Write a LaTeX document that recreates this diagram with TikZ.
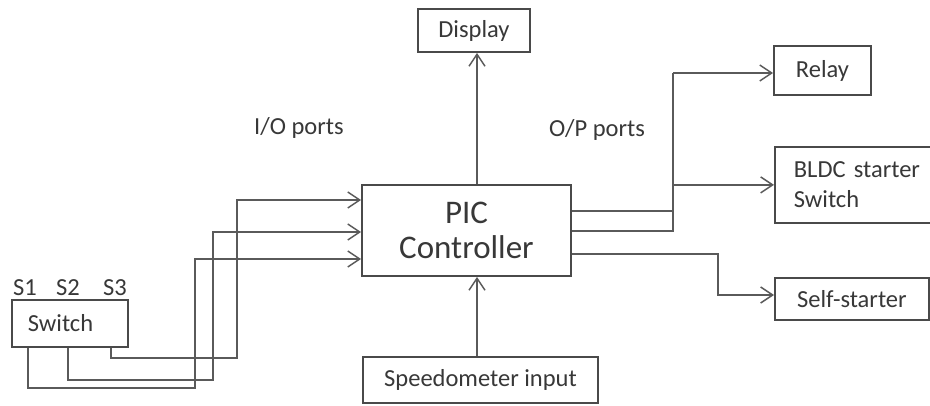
\documentclass[tikz,border=0pt]{standalone}
\usepackage{fontspec}
\setmainfont{Carlito}
\usetikzlibrary{arrows.meta}
\definecolor{ln}{HTML}{5A5A5A}
\definecolor{bx}{HTML}{4A4A4A}
\definecolor{tx}{HTML}{383838}
\begin{document}
\begin{tikzpicture}[x=1pt,y=-1pt,
  box/.style={draw=bx, line width=1.8pt, rectangle, text=tx, font=\fontsize{24.5}{30}\selectfont, inner sep=0pt},
  wire/.style={draw=ln, line width=1.9pt},
  arr/.style={wire, -{Straight Barb[length=12pt,width=16pt,line width=1.5pt]}},
  lbl/.style={text=tx, font=\fontsize{24.5}{30}\selectfont, inner sep=0pt}]
\useasboundingbox (0,0) rectangle (930,406);
\clip (0,0) rectangle (930,406);
\fill[white] (0,0) rectangle (930,406);

% nodes
\node[box, minimum width=112pt, minimum height=43pt] (disp) at (474,30.5) {Display};
\node[box, minimum width=209pt, minimum height=91pt, align=center, font=\fontsize{33}{35}\selectfont] (pic) at (466.5,230.5) {PIC\\Controller};
\node[box, minimum width=235pt, minimum height=46pt] (speed) at (480.5,380) {Speedometer input};
\node[box, minimum width=97pt, minimum height=49pt] (relay) at (822.5,70.5) {Relay};
\node[box, anchor=north west, minimum height=76pt, text width=140pt, inner xsep=19pt, align=left] (bldc) at (774,146) {BLDC starter\\Switch};
\node[box, anchor=north west, minimum width=154pt, minimum height=42pt] (self) at (774,277) {Self-starter};
\node[box, anchor=north west, minimum height=47pt, text width=84pt, inner xsep=16pt, align=left] (sw) at (11,299) {Switch};

% labels
\node[lbl] (s1) at (25,288) {S1};
\node[lbl] (s2) at (68,288) {S2};
\node[lbl] (s3) at (115,288) {S3};
\node[lbl] (io) at (299,128) {I/O ports};
\node[lbl] (op) at (597,130) {O/P ports};

% helper coordinates
\coordinate (cx) at (477,0);
\coordinate (w1) at (28,0);
\coordinate (w2) at (68,0);
\coordinate (w3) at (111,0);
\coordinate (v1) at (195,388);
\coordinate (v2) at (213,380);
\coordinate (v3) at (237,358);
\coordinate (i1) at (0,259);
\coordinate (i2) at (0,232);
\coordinate (i3) at (0,200);
\coordinate (o1) at (0,211);
\coordinate (o2) at (0,231);
\coordinate (o3) at (0,254);
\coordinate (j) at (673,0);
\coordinate (r) at (0,73);
\coordinate (k) at (718,295);

% vertical connectors
\draw[arr] (pic.north -| cx) -- (disp.south -| cx);
\draw[arr] (speed.north -| cx) -- (pic.south -| cx);

% switch wires
\draw[arr] (sw.south -| w3) |- (v3) |- (pic.west |- i3);
\draw[arr] (sw.south -| w2) |- (v2) |- (pic.west |- i2);
\draw[arr] (sw.south -| w1) |- (v1) |- (pic.west |- i1);

% outputs
\draw[wire] (pic.east |- o1) -- (j |- o1);
\draw[wire] (pic.east |- o2) -- (j |- o2) -- (j |- r);
\draw[arr] (j |- r) -- (relay.west |- r);
\draw[arr] (j |- bldc.west) -- (bldc.west);
\draw[arr] (pic.east |- o3) -| (k) -- (self.west |- k);
\end{tikzpicture}
\end{document}
